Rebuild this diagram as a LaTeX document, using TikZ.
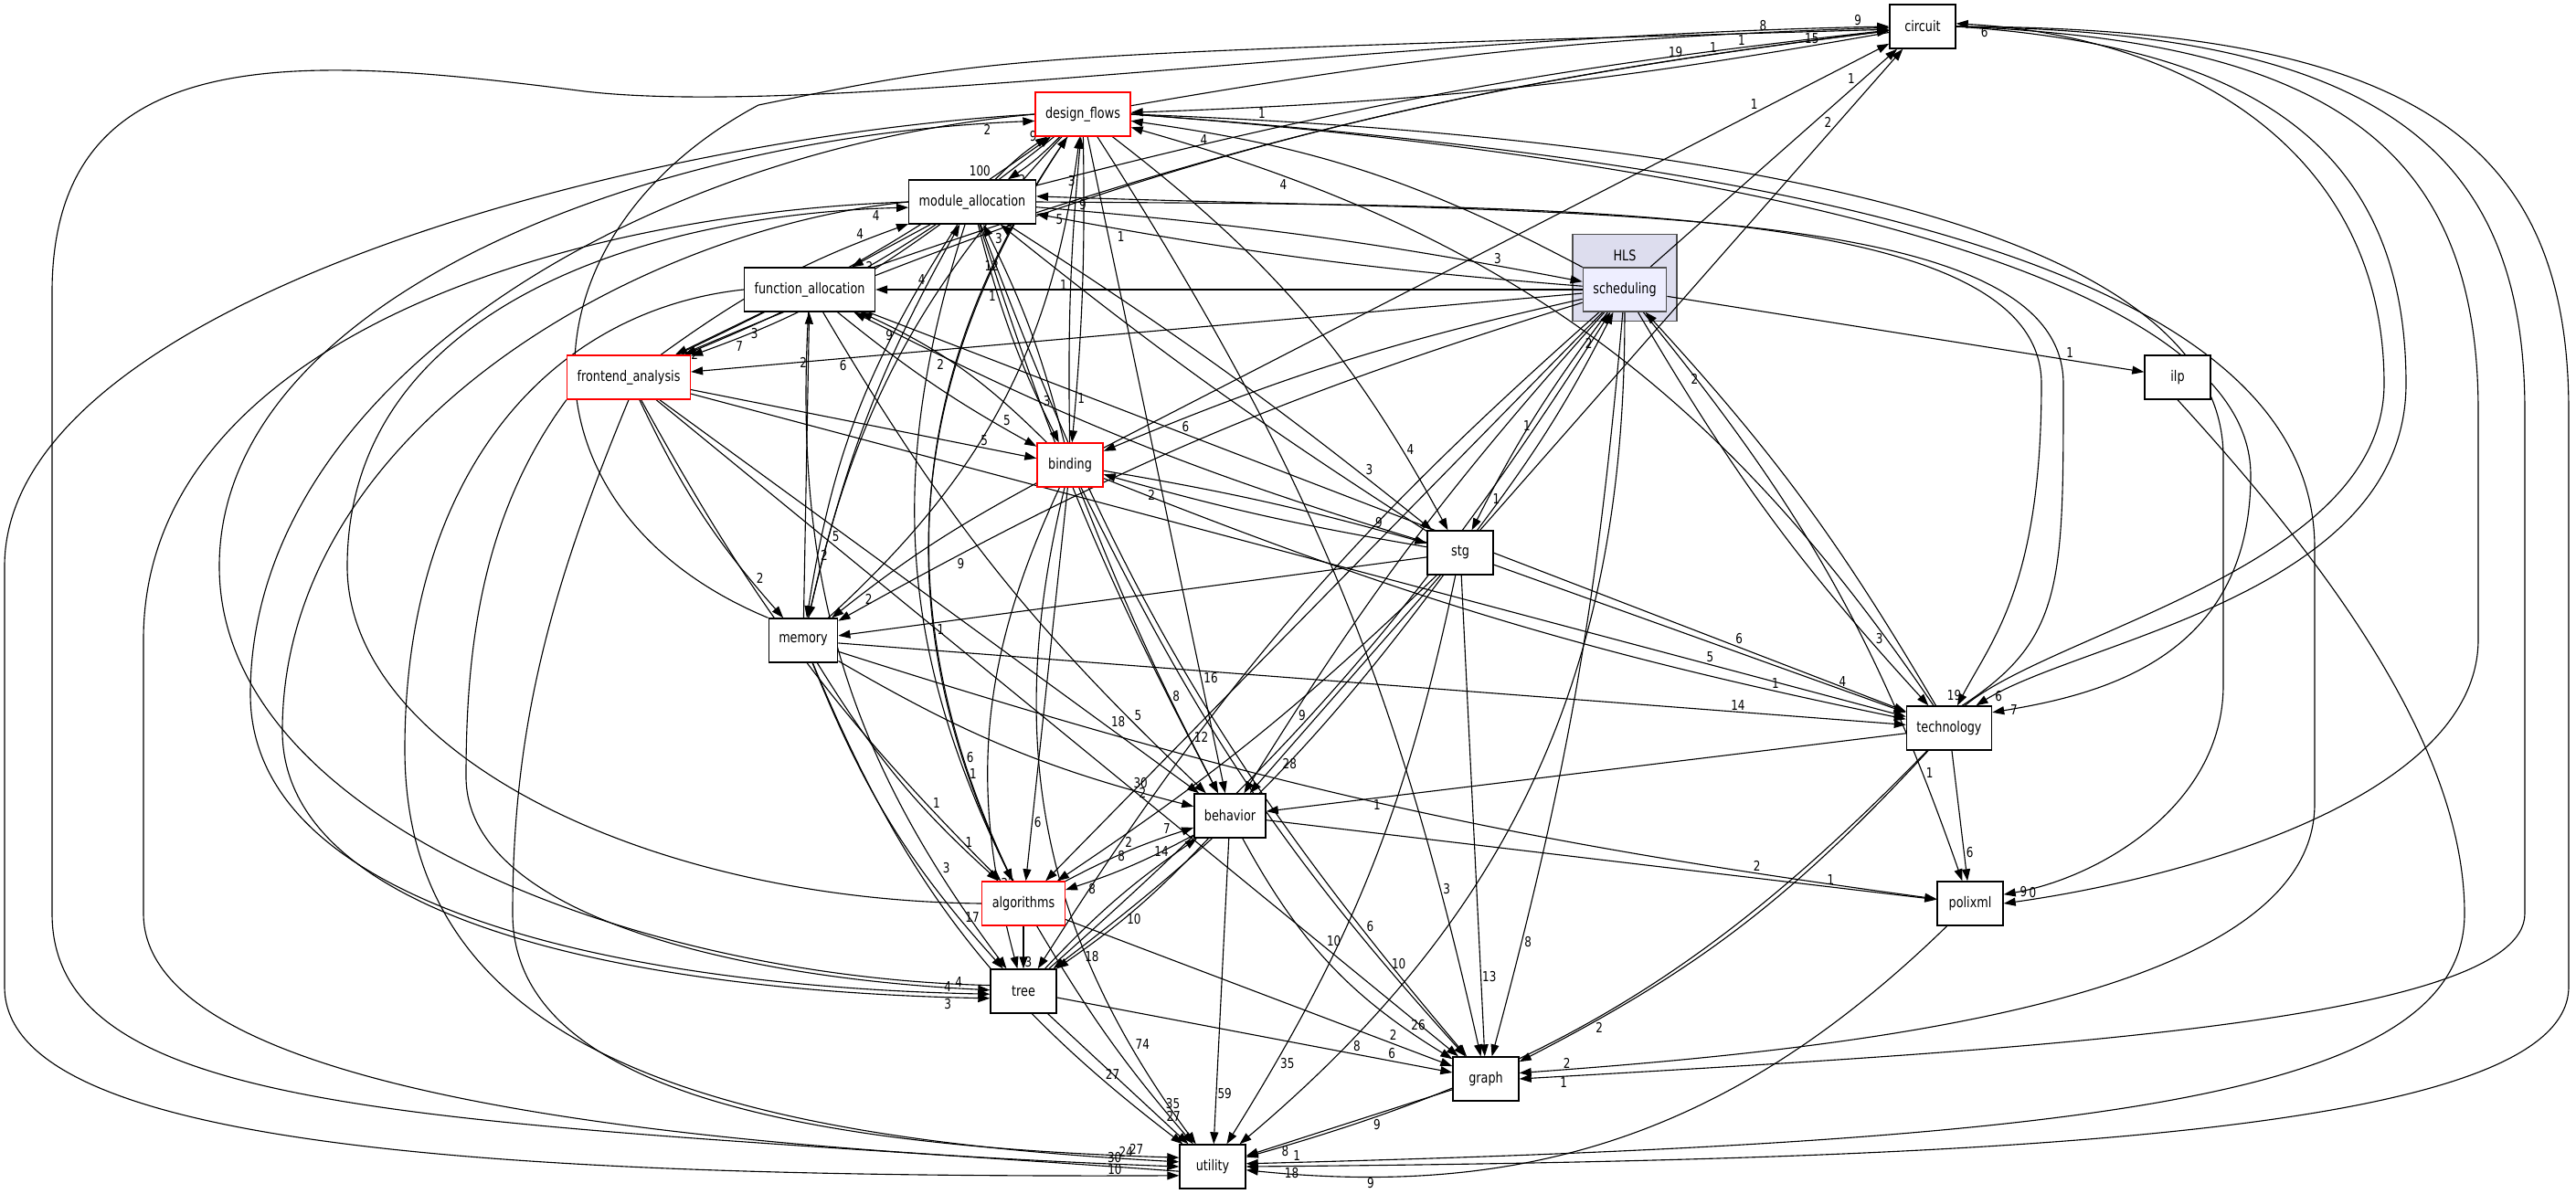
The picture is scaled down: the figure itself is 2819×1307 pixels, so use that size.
\documentclass[tikz,border=0pt]{standalone}
\usepackage{fontspec}
\setmainfont{DejaVu Sans}[FakeStretch=0.8]
\usepackage{tikz}
\usetikzlibrary{arrows.meta}
\definecolor{hlsfill}{RGB}{221,221,238}
\definecolor{schedfill}{RGB}{238,238,255}
\definecolor{hlsline}{RGB}{80,80,80}
\pgfdeclarelayer{cluster}
\pgfdeclarelayer{edges}
\pgfsetlayers{cluster,edges,main}

\begin{document}
\begin{tikzpicture}[x=0.25pt, y=-0.25pt,
    box/.style={draw, line width=0.35pt, fill=white, minimum width=18pt, minimum height=12pt,
                inner xsep=2.75pt, font=\fontsize{4}{4.75}\selectfont},
    redbox/.style={box, draw=red},
    dep/.style={line width=0.28pt, -{Triangle[length=3.25pt,width=2.25pt]}},
    cnt/.style={font=\fontsize{3.75}{4.5}\selectfont, inner sep=0.25pt}]
  \useasboundingbox (0,0) rectangle (2819,1307);

  % HLS cluster
  \begin{pgfonlayer}{cluster}
    \node[draw=hlsline, line width=0.35pt, fill=hlsfill, minimum width=28.5pt, minimum height=23.75pt,
          label={[font=\fontsize{4}{4.75}\selectfont, anchor=north, yshift=-1pt]north:HLS}] (hls) at (1778,304) {};
  \end{pgfonlayer}

  % directories
  \node[box] (circuit) at (2104,29) {circuit};
  \node[redbox] (dflows) at (1185,125) {design\_flows};
  \node[box] (modalloc) at (1064,221) {module\_allocation};
  \node[box, draw=hlsline, fill=schedfill] (sched) at (1778,317) {scheduling};
  \node[box] (funalloc) at (886,317) {function\_allocation};
  \node[redbox] (frontend) at (688,413) {frontend\_analysis};
  \node[box] (ilp) at (2383,413) {ilp};
  \node[redbox] (binding) at (1171,509) {binding};
  \node[box] (stg) at (1598,605) {stg};
  \node[box] (memory) at (879,701) {memory};
  \node[box] (techno) at (2133,797) {technology};
  \node[box] (behavior) at (1346,893) {behavior};
  \node[redbox] (algo) at (1120,989) {algorithms};
  \node[box] (polixml) at (2156,989) {polixml};
  \node[box] (tree) at (1120,1085) {tree};
  \node[box] (graph) at (1626,1181) {graph};
  \node[box] (utility) at (1327,1277) {utility};

  \begin{pgfonlayer}{edges}
    % dependencies: source/target/count/bend
    \foreach \src/\dst/\num/\bnd in {
        dflows/circuit/8/4, modalloc/circuit/1/4, frontend/circuit/19/8, funalloc/circuit/1/6,
        sched/circuit/1/0, stg/circuit/2/0, binding/circuit/1/0,
        circuit/dflows/1/4, modalloc/dflows/9/6, dflows/modalloc/2/6, binding/dflows/3/3,
        dflows/binding/1/3, frontend/dflows/100/-5, memory/dflows/5/-20, algo/dflows/3/30,
        sched/dflows/4/-10, techno/dflows/4/-20, dflows/frontend/3/8,
        dflows/stg/4/12, dflows/behavior/16/0, dflows/memory/5/-15,
        dflows/algo/6/-30, dflows/graph/3/10,
        modalloc/funalloc/2/0, modalloc/frontend/7/8, frontend/modalloc/4/8, modalloc/binding/3/-6,
        binding/modalloc/12/-6, modalloc/stg/3/3, stg/modalloc/1/3, modalloc/sched/3/3,
        sched/modalloc/1/3, modalloc/behavior/8/-5, modalloc/graph/6/-10, modalloc/memory/2/-12,
        memory/modalloc/4/8, modalloc/algo/1/-22,
        sched/funalloc/1/0, memory/funalloc/2/0, binding/funalloc/9/-10, stg/funalloc/2/5,
        funalloc/frontend/2/0, funalloc/techno/6/0, funalloc/behavior/5/-8, funalloc/tree/3/-20,
        funalloc/binding/5/-5,
        sched/frontend/6/0, frontend/binding/5/0, frontend/memory/2/-8, frontend/techno/5/0,
        frontend/behavior/18/0, frontend/algo/1/-8, frontend/graph/10/0,
        sched/ilp/1/0, sched/binding/6/-5, sched/stg/1/-5, stg/sched/2/-5, sched/memory/9/-6,
        sched/techno/3/-6, techno/sched/2/-6, sched/behavior/9/-5, sched/algo/2/0, sched/tree/8/-8,
        tree/sched/1/-8, sched/graph/8/5, sched/polixml/1/10, sched/utility/8/25,
        binding/stg/9/3, stg/binding/2/3, binding/memory/2/-5, binding/techno/1/-5,
        binding/behavior/12/-3, binding/algo/6/0, binding/tree/32/-20, binding/graph/10/-8,
        binding/utility/74/-25,
        stg/memory/1/0, stg/techno/4/0, stg/behavior/28/0, stg/algo/2/5, stg/tree/10/8,
        stg/graph/13/0, stg/utility/35/10,
        memory/techno/14/0, memory/behavior/30/-8, memory/algo/1/-8, memory/tree/17/-10,
        memory/polixml/2/-5, memory/utility/27/-15,
        techno/behavior/1/0, techno/polixml/6/0, techno/graph/2/10, techno/utility/9/15,
        behavior/algo/8/5, algo/behavior/7/5, behavior/tree/18/6, tree/behavior/14/6,
        behavior/polixml/1/0, behavior/graph/26/-15, behavior/utility/59/0,
        algo/tree/3/0, algo/graph/2/0, algo/utility/35/-5,
        tree/graph/6/0, tree/utility/27/0, graph/utility/8/0, polixml/utility/9/25} {
      \draw[dep] (\src) to[bend left=\bnd] node[cnt, pos=0.85, auto] {\num} (\dst);
    }

    % long detours round the left side
    \draw[dep] (dflows.west) .. controls (700,150) and (5,330) .. (5,620) -- (5,1080)
      .. controls (5,1250) and (500,1290) .. (utility.195) node[cnt, pos=0.97, above] {10};
    \draw[dep] (utility.188) .. controls (500,1225) and (57,1230) .. (57,1000) -- (57,320)
      .. controls (57,40) and (330,60) .. (640,100)
      .. controls (900,130) and (1500,40) .. (circuit.west) node[cnt, pos=0.98, above] {9};
    \draw[dep] (memory.north west) .. controls (560,560) and (560,260) .. (830,115)
      .. controls (1100,60) .. (circuit.185) node[cnt, pos=0.97, below] {15};
    \draw[dep] (modalloc.west) .. controls (600,235) and (157,380) .. (157,700) -- (157,1000)
      .. controls (157,1190) and (700,1255) .. (utility.180) node[cnt, pos=0.96, above] {30};
    \draw[dep] (dflows.west) .. controls (700,165) and (274,420) .. (274,760)
      .. controls (274,1000) and (700,1080) .. (tree.185) node[cnt, pos=0.96, above] {4};
    \draw[dep] (modalloc.west) .. controls (700,250) and (309,470) .. (309,800)
      .. controls (309,1010) and (700,1085) .. (tree.192) node[cnt, pos=0.96, below] {3};
    \draw[dep] (funalloc.west) .. controls (600,340) and (443,520) .. (443,820)
      .. controls (443,1160) and (800,1245) .. (utility.172) node[cnt, pos=0.96, above] {24};
    \draw[dep] (frontend.south west) .. controls (530,560) and (510,700) .. (510,850)
      .. controls (510,1000) and (800,1070) .. (tree.178) node[cnt, pos=0.96, above] {4};
    \draw[dep] (frontend.south) .. controls (600,650) and (561,800) .. (561,1000)
      .. controls (561,1200) and (900,1255) .. (utility.165) node[cnt, pos=0.96, above] {27};
    \draw[dep] (tree.170) .. controls (700,1070) and (240,900) .. (240,620)
      .. controls (240,330) and (700,150) .. (dflows.188) node[cnt, pos=0.96, below] {2};
    \draw[dep] (algo.west) .. controls (700,985) and (380,820) .. (380,620)
      .. controls (380,340) and (700,235) .. (modalloc.185) node[cnt, pos=0.96, below] {4};

    % long detours round the right side
    \draw[dep] (circuit.east) .. controls (2450,50) and (2633,150) .. (2633,420)
      .. controls (2633,650) and (2280,700) .. (techno.40) node[cnt, pos=0.95, right] {6};
    \draw[dep] (techno.55) .. controls (2250,690) and (2609,620) .. (2609,420)
      .. controls (2609,170) and (2400,40) .. (circuit.5) node[cnt, pos=0.96, below] {6};
    \draw[dep] (circuit.east) .. controls (2550,45) and (2712,160) .. (2712,450) -- (2712,700)
      .. controls (2712,870) and (2400,960) .. (polixml.east) node[cnt, pos=0.95, above] {0};
    \draw[dep] (circuit.east) .. controls (2600,35) and (2763,160) .. (2763,450) -- (2763,1000)
      .. controls (2763,1120) and (2200,1150) .. (graph.east) node[cnt, pos=0.97, below] {1};
    \draw[dep] (circuit.east) .. controls (2650,30) and (2811,160) .. (2811,450) -- (2811,1080)
      .. controls (2811,1240) and (2200,1270) .. (utility.east) node[cnt, pos=0.98, below] {18};
    \draw[dep] (modalloc.east) .. controls (1700,225) and (2234,220) .. (2234,420)
      .. controls (2234,640) and (2180,700) .. (techno.70) node[cnt, pos=0.95, left] {19};
    \draw[dep] (techno.60) .. controls (2258,700) and (2258,640) .. (2258,420)
      .. controls (2258,215) and (1700,235) .. (modalloc.5) node[cnt, pos=0.97, below] {9};
    \draw[dep] (dflows.east) .. controls (1900,150) and (2433,250) .. (2433,500) -- (2433,750)
      .. controls (2433,880) and (2300,960) .. (polixml.15) node[cnt, pos=0.95, right] {9};
    \draw[dep] (dflows.east) .. controls (1850,170) and (2463,290) .. (2463,520)
      .. controls (2463,720) and (2300,760) .. (techno.20) node[cnt, pos=0.95, right] {7};
    \draw[dep] (dflows.east) .. controls (2000,180) and (2533,300) .. (2533,600) -- (2533,880)
      .. controls (2533,1100) and (2000,1150) .. (graph.10) node[cnt, pos=0.95, above] {2};
    \draw[dep] (ilp.south) .. controls (2550,620) and (2697,820) .. (2697,1000)
      .. controls (2697,1200) and (2300,1250) .. (utility.5) node[cnt, pos=0.98, above] {1};
  \end{pgfonlayer}
\end{tikzpicture}
\end{document}
